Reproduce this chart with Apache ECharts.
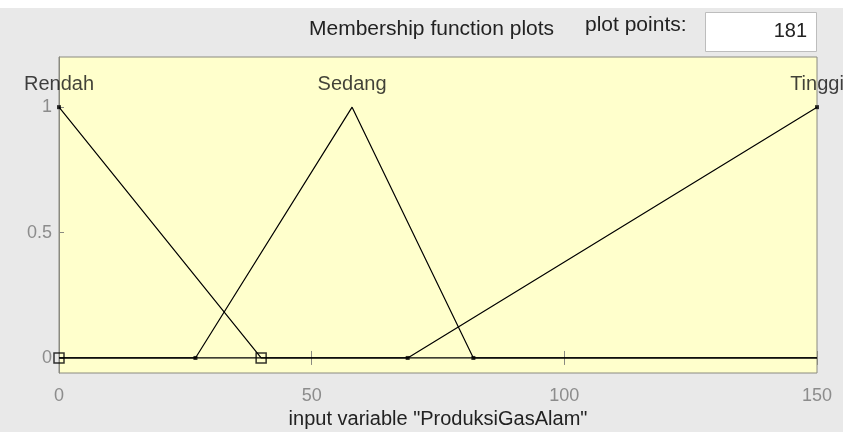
<!DOCTYPE html>
<html>
<head>
<meta charset="utf-8">
<script src="https://cdn.jsdelivr.net/npm/echarts@6/dist/echarts.min.js"></script>
<style>
  html, body { margin: 0; padding: 0; background: #e9e9e9; }
  #chart { width: 843px; height: 432px; }
</style>
</head>
<body>
<div id="chart"></div>
<script>
// membership functions (x = input variable, y = degree of membership)
var rendahX = [0, 40, 150];
var rendahY = [1, 0, 0];
var sedangX = [0, 27, 58, 82, 150];
var sedangY = [0, 0, 1, 0, 0];
var tinggiX = [0, 69, 150];
var tinggiY = [0, 0, 1];

var mfNames = ['Rendah', 'Sedang', 'Tinggi'];
var mfPeaks = [0, 58, 150];

var xTicks = [0, 50, 100, 150];
var yTicks = [0, 0.5, 1];
var plotPoints = 181;

function pairs(xs, ys) {
    var out = [];
    for (var i = 0; i < xs.length; i++) out.push([xs[i], ys[i]]);
    return out;
}

function mfLine(name, xs, ys) {
    return {
        name: name,
        type: 'line',
        data: pairs(xs, ys),
        showSymbol: false,
        lineStyle: { color: '#000', width: 1.2 },
        animation: false,
        z: 3
    };
}

var font = 'Liberation Sans, Arial, sans-serif';
var chart = echarts.init(document.getElementById('chart'));

// small vertex markers of each function
var vertexPts = [[0, 1], [27, 0], [69, 0], [82, 0], [150, 1]];
// squares on the selected function
var selPts = [[0, 0], [40, 0]];
var labelPts = [];
for (var i = 0; i < mfNames.length; i++) labelPts.push([mfPeaks[i], 1.09, mfNames[i]]);

var option = {
    backgroundColor: '#e9e9e9',
    animation: false,
    graphic: [
        { type: 'rect', left: 0, top: 0, shape: { width: 843, height: 8 }, style: { fill: '#fff' } },
        { type: 'text', left: 309, top: 19, style: { text: 'Membership function plots', font: '21px ' + font, fill: '#222' } },
        { type: 'text', left: 585, top: 15, style: { text: 'plot points:', font: '21px ' + font, fill: '#222' } },
        { type: 'rect', left: 705, top: 12, shape: { width: 111, height: 39 }, style: { fill: '#fff', stroke: '#bdbdbd', lineWidth: 1 } },
        { type: 'text', right: 36, top: 21, style: { text: String(plotPoints), font: '20px ' + font, fill: '#222' } }
    ],
    grid: {
        left: 59, right: 26, top: 57, bottom: 59, outerBoundsMode: 'none',
        show: true, backgroundColor: '#ffffcc', borderColor: '#8a8a80', borderWidth: 1
    },
    xAxis: [{
        type: 'value', min: 0, max: 150, interval: 50,
        position: 'bottom',
        axisLine: { show: false },
        axisTick: { show: true, inside: true, length: 7, lineStyle: { color: '#8a8a80' } },
        axisLabel: { color: '#8c8c8c', fontSize: 18, fontFamily: font, margin: 14 },
        splitLine: { show: false },
        name: 'input variable "ProduksiGasAlam"',
        nameLocation: 'middle', nameGap: 33,
        nameTextStyle: { color: '#222', fontSize: 20, fontFamily: font }
    }, {
        type: 'value', min: 0, max: 150, interval: 50,
        position: 'top',
        axisLine: { show: false },
        axisTick: { show: true, inside: true, length: 7, lineStyle: { color: '#8a8a80' } },
        axisLabel: { show: false },
        splitLine: { show: false }
    }],
    yAxis: [{
        type: 'value', min: -0.06, max: 1.2,
        axisLine: { show: true, lineStyle: { color: '#8a8a80', width: 1 } },
        axisTick: { show: true, inside: true, length: 5, customValues: yTicks, lineStyle: { color: '#8a8a80' } },
        axisLabel: { color: '#8c8c8c', fontSize: 18, fontFamily: font, margin: 7, customValues: yTicks },
        splitLine: { show: false }
    }, {
        type: 'value', min: -0.06, max: 1.2, position: 'right',
        axisLine: { show: false },
        axisTick: { show: false },
        axisLabel: { show: false },
        splitLine: { show: false }
    }],
    series: [
        mfLine(mfNames[0], rendahX, rendahY),
        mfLine(mfNames[1], sedangX, sedangY),
        mfLine(mfNames[2], tinggiX, tinggiY),
        {
            type: 'scatter', data: vertexPts, symbol: 'rect', symbolSize: 4,
            itemStyle: { color: '#000' }, z: 4
        },
        {
            type: 'scatter', data: selPts, symbol: 'rect', symbolSize: 10,
            itemStyle: { color: 'rgba(0,0,0,0)', borderColor: '#000', borderWidth: 1.5 }, z: 5
        },
        {
            type: 'scatter', data: labelPts, symbolSize: 0, silent: true,
            label: {
                show: true, position: 'inside', formatter: function (p) { return p.data[2]; },
                color: '#111', fontSize: 20, fontFamily: font
            },
            z: 6
        }
    ]
};

chart.setOption(option);
</script>
</body>
</html>
